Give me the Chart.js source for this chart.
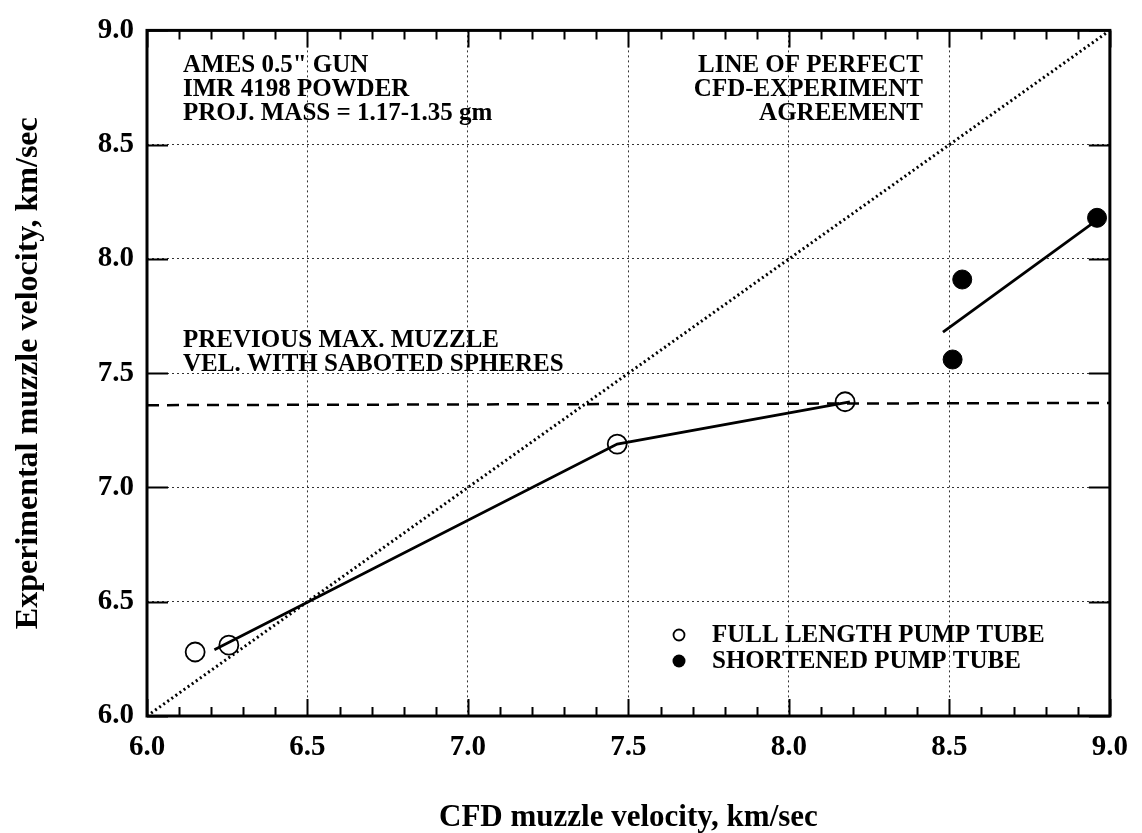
<!DOCTYPE html>
<html>
<head>
<meta charset="utf-8">
<script src="https://cdn.jsdelivr.net/npm/chart.js@4.4.1/dist/chart.umd.min.js"></script>
<style>
  html, body { margin: 0; padding: 0; background: #fff; }
  #wrap { width: 1142px; height: 833px; position: relative; }
</style>
</head>
<body>
<div id="wrap"><canvas id="c"></canvas></div>
<script>
// ---- data ----
const xTickLabels = ['6.0', '6.5', '7.0', '7.5', '8.0', '8.5', '9.0'];
const yTickLabels = ['6.0', '6.5', '7.0', '7.5', '8.0', '8.5', '9.0'];

const fullCFD  = [6.15, 6.255, 7.465, 8.175];
const fullExp  = [6.28, 6.31, 7.19, 7.375];
const shortCFD = [8.51, 8.54, 8.96];
const shortExp = [7.56, 7.91, 8.18];

const fullFitCFD  = [6.21, 7.465, 8.19];
const fullFitExp  = [6.29, 7.19, 7.375];
const shortFitCFD = [8.48, 8.95];
const shortFitExp = [7.68, 8.16];

const perfectCFD = [6.0, 9.0];
const perfectExp = [6.0, 9.0];

const prevMaxCFD = [6.0, 9.0];
const prevMaxExp = [7.36, 7.37];

const legendLabels = ['FULL LENGTH PUMP TUBE', 'SHORTENED PUMP TUBE'];
const noteTopLeft = ['AMES 0.5" GUN', 'IMR 4198 POWDER', 'PROJ. MASS = 1.17-1.35 gm'];
const noteTopRight = ['LINE OF PERFECT', 'CFD-EXPERIMENT', 'AGREEMENT'];
const notePrev = ['PREVIOUS MAX. MUZZLE', 'VEL. WITH SABOTED SPHERES'];
const xTitle = 'CFD muzzle velocity, km/sec';
const yTitle = 'Experimental muzzle velocity, km/sec';

const zip = (xs, ys) => xs.map((x, i) => ({ x: x, y: ys[i] }));
const SERIF = '"Liberation Serif", "Times New Roman", serif';

// frame, inward ticks, annotations and legend
const decor = {
  id: 'decor',
  afterDatasetsDraw(chart) {
    const { ctx, chartArea: a, scales: { x, y } } = chart;
    ctx.save();
    ctx.strokeStyle = '#000';
    ctx.setLineDash([]);
    // inward ticks
    ctx.lineWidth = 2;
    for (let k = 0; k <= 30; k++) {
      const v = x.min + k * 0.1;
      const px = Math.round(x.getPixelForValue(v)) + 0.5;
      const len = (k % 5 === 0) ? 17 : 9;
      ctx.beginPath();
      ctx.moveTo(px, a.bottom); ctx.lineTo(px, a.bottom - len);
      ctx.moveTo(px, a.top); ctx.lineTo(px, a.top + len);
      ctx.stroke();
    }
    for (let k = 0; k <= 6; k++) {
      const v = y.min + k * 0.5;
      const py = Math.round(y.getPixelForValue(v)) + 0.5;
      ctx.beginPath();
      ctx.moveTo(a.left, py); ctx.lineTo(a.left + 21, py);
      ctx.moveTo(a.right, py); ctx.lineTo(a.right - 21, py);
      ctx.stroke();
    }
    // frame
    ctx.lineWidth = 3;
    ctx.strokeRect(a.left, a.top, a.right - a.left, a.bottom - a.top);

    // annotations
    ctx.fillStyle = '#000';
    ctx.font = 'bold 25px ' + SERIF;
    ctx.textBaseline = 'middle';
    ctx.textAlign = 'left';
    noteTopLeft.forEach((t, i) => ctx.fillText(t, 183, 66 + i * 24));
    ctx.textAlign = 'right';
    noteTopRight.forEach((t, i) => ctx.fillText(t, 923, 66 + i * 24));
    ctx.textAlign = 'left';
    notePrev.forEach((t, i) => ctx.fillText(t, 183, 341 + i * 24));

    // legend
    const lx = 679, ly = [635, 661];
    ctx.font = 'bold 25px ' + SERIF;
    ctx.lineWidth = 1.8;
    ctx.beginPath(); ctx.arc(lx, ly[0], 5.5, 0, Math.PI * 2); ctx.stroke();
    ctx.beginPath(); ctx.arc(lx, ly[1], 6.5, 0, Math.PI * 2); ctx.fill();
    legendLabels.forEach((t, i) => ctx.fillText(t, 712, ly[i] + 1));
    ctx.restore();
  }
};

const gridCommon = { display: true, drawTicks: false, color: '#333', lineWidth: 1 };
const tickFont = { family: SERIF, size: 29, weight: 'bold' };

new Chart(document.getElementById('c'), {
  type: 'scatter',
  data: {
    datasets: [
      { data: zip(perfectCFD, perfectExp), showLine: true, borderColor: '#000', borderWidth: 3,
        borderDash: [2, 3], pointRadius: 0, fill: false },
      { data: zip(prevMaxCFD, prevMaxExp), showLine: true, borderColor: '#000', borderWidth: 2.5,
        borderDash: [12, 8], pointRadius: 0, fill: false },
      { data: zip(fullFitCFD, fullFitExp), showLine: true, borderColor: '#000', borderWidth: 2.8,
        pointRadius: 0, fill: false, tension: 0 },
      { data: zip(shortFitCFD, shortFitExp), showLine: true, borderColor: '#000', borderWidth: 2.8,
        pointRadius: 0, fill: false },
      { data: zip(fullCFD, fullExp), showLine: false, pointRadius: 9.5, pointBorderWidth: 1.8,
        pointBorderColor: '#000', pointBackgroundColor: 'rgba(0,0,0,0)' },
      { data: zip(shortCFD, shortExp), showLine: false, pointRadius: 9.5, pointBorderWidth: 1,
        pointBorderColor: '#000', pointBackgroundColor: '#000' }
    ]
  },
  options: {
    responsive: true,
    maintainAspectRatio: false,
    animation: false,
    layout: { padding: { left: 10, top: 21, right: 26, bottom: 0 } },
    plugins: { legend: { display: false }, tooltip: { enabled: false } },
    scales: {
      x: {
        type: 'linear', min: 6, max: 9,
        afterFit: s => { s.height = 117; },
        afterBuildTicks: s => { s.ticks = xTickLabels.map(t => ({ value: parseFloat(t) })); },
        ticks: { padding: 14, color: '#000', font: tickFont,
                 callback: (v, i) => xTickLabels[i], maxRotation: 0, autoSkip: false },
        grid: gridCommon,
        border: { display: false, dash: [2, 3] },
        title: { display: true, text: xTitle, color: '#000', padding: { top: 0, bottom: 0 },
                 font: { family: SERIF, size: 31, weight: 'bold', lineHeight: 1 } }
      },
      y: {
        type: 'linear', min: 6, max: 9,
        afterFit: s => { s.width = 137; },
        afterBuildTicks: s => { s.ticks = yTickLabels.map(t => ({ value: parseFloat(t) })); },
        ticks: { padding: 13, color: '#000', font: tickFont,
                 callback: (v, i) => yTickLabels[i], autoSkip: false },
        grid: gridCommon,
        border: { display: false, dash: [2, 3] },
        title: { display: true, text: yTitle, color: '#000', padding: { top: 3, bottom: 0 },
                 font: { family: SERIF, size: 32, weight: 'bold', lineHeight: 1 } }
      }
    }
  },
  plugins: [decor]
});
</script>
</body>
</html>
